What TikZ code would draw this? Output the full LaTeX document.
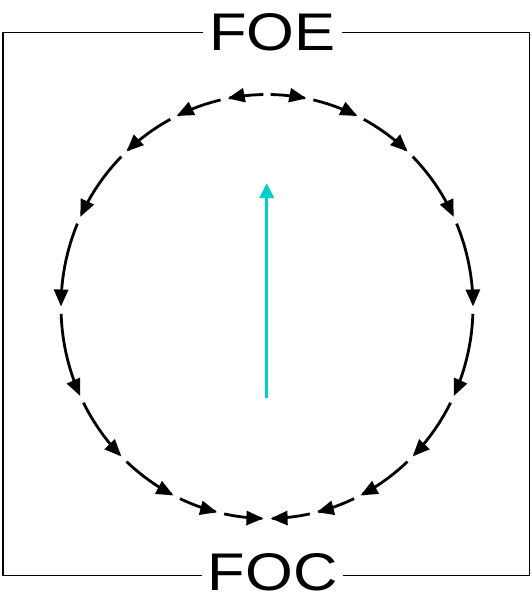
\documentclass[tikz,border=0pt]{standalone}
\usepackage{fontspec}
\setmainfont{Liberation Sans}
\usetikzlibrary{arrows.meta}
\definecolor{flowcyan}{RGB}{0,208,204}
\tikzset{
  frame/.style={line width=1.8pt, draw=black},
  flowarc/.style={line width=2.8pt, -{Triangle[length=17pt,width=14pt]}},
  label/.style={fill=white, inner xsep=6pt, inner ysep=0pt, font=\fontsize{53}{53}\selectfont},
  motion/.style={line width=3pt, draw=flowcyan, -{Triangle[length=15pt,width=14pt]}}
}
\begin{document}
\begin{tikzpicture}[x=1pt,y=-1pt]
\useasboundingbox (0,0) rectangle (531,607);
\draw[frame] (3.3,32.5) rectangle (529.5,575.5);
\node[label, anchor=base] (foe) at (272.5,50.5) {\scalebox{1.16}[1]{FOE}};
\node[label, anchor=base] (foc) at (272.5,590.5) {\scalebox{1.16}[1]{FOC}};
\foreach \a/\b in {0/12,12/27,27/44,44/66,66/91,91/116,116/136,136/154,154/167,167/180} {
  \draw[flowarc] plot[domain=\a+1:\b-1, samples=20, smooth] ({267+206*sin(\x)},{306.5-212*cos(\x)});
  \draw[flowarc] plot[domain=\a+1:\b-1, samples=20, smooth] ({267-206*sin(\x)},{306.5-212*cos(\x)});
}
\coordinate (mstart) at (266.7,398);
\coordinate (mend) at (266.7,183);
\draw[motion] (mstart) -- (mend);
\end{tikzpicture}
\end{document}
